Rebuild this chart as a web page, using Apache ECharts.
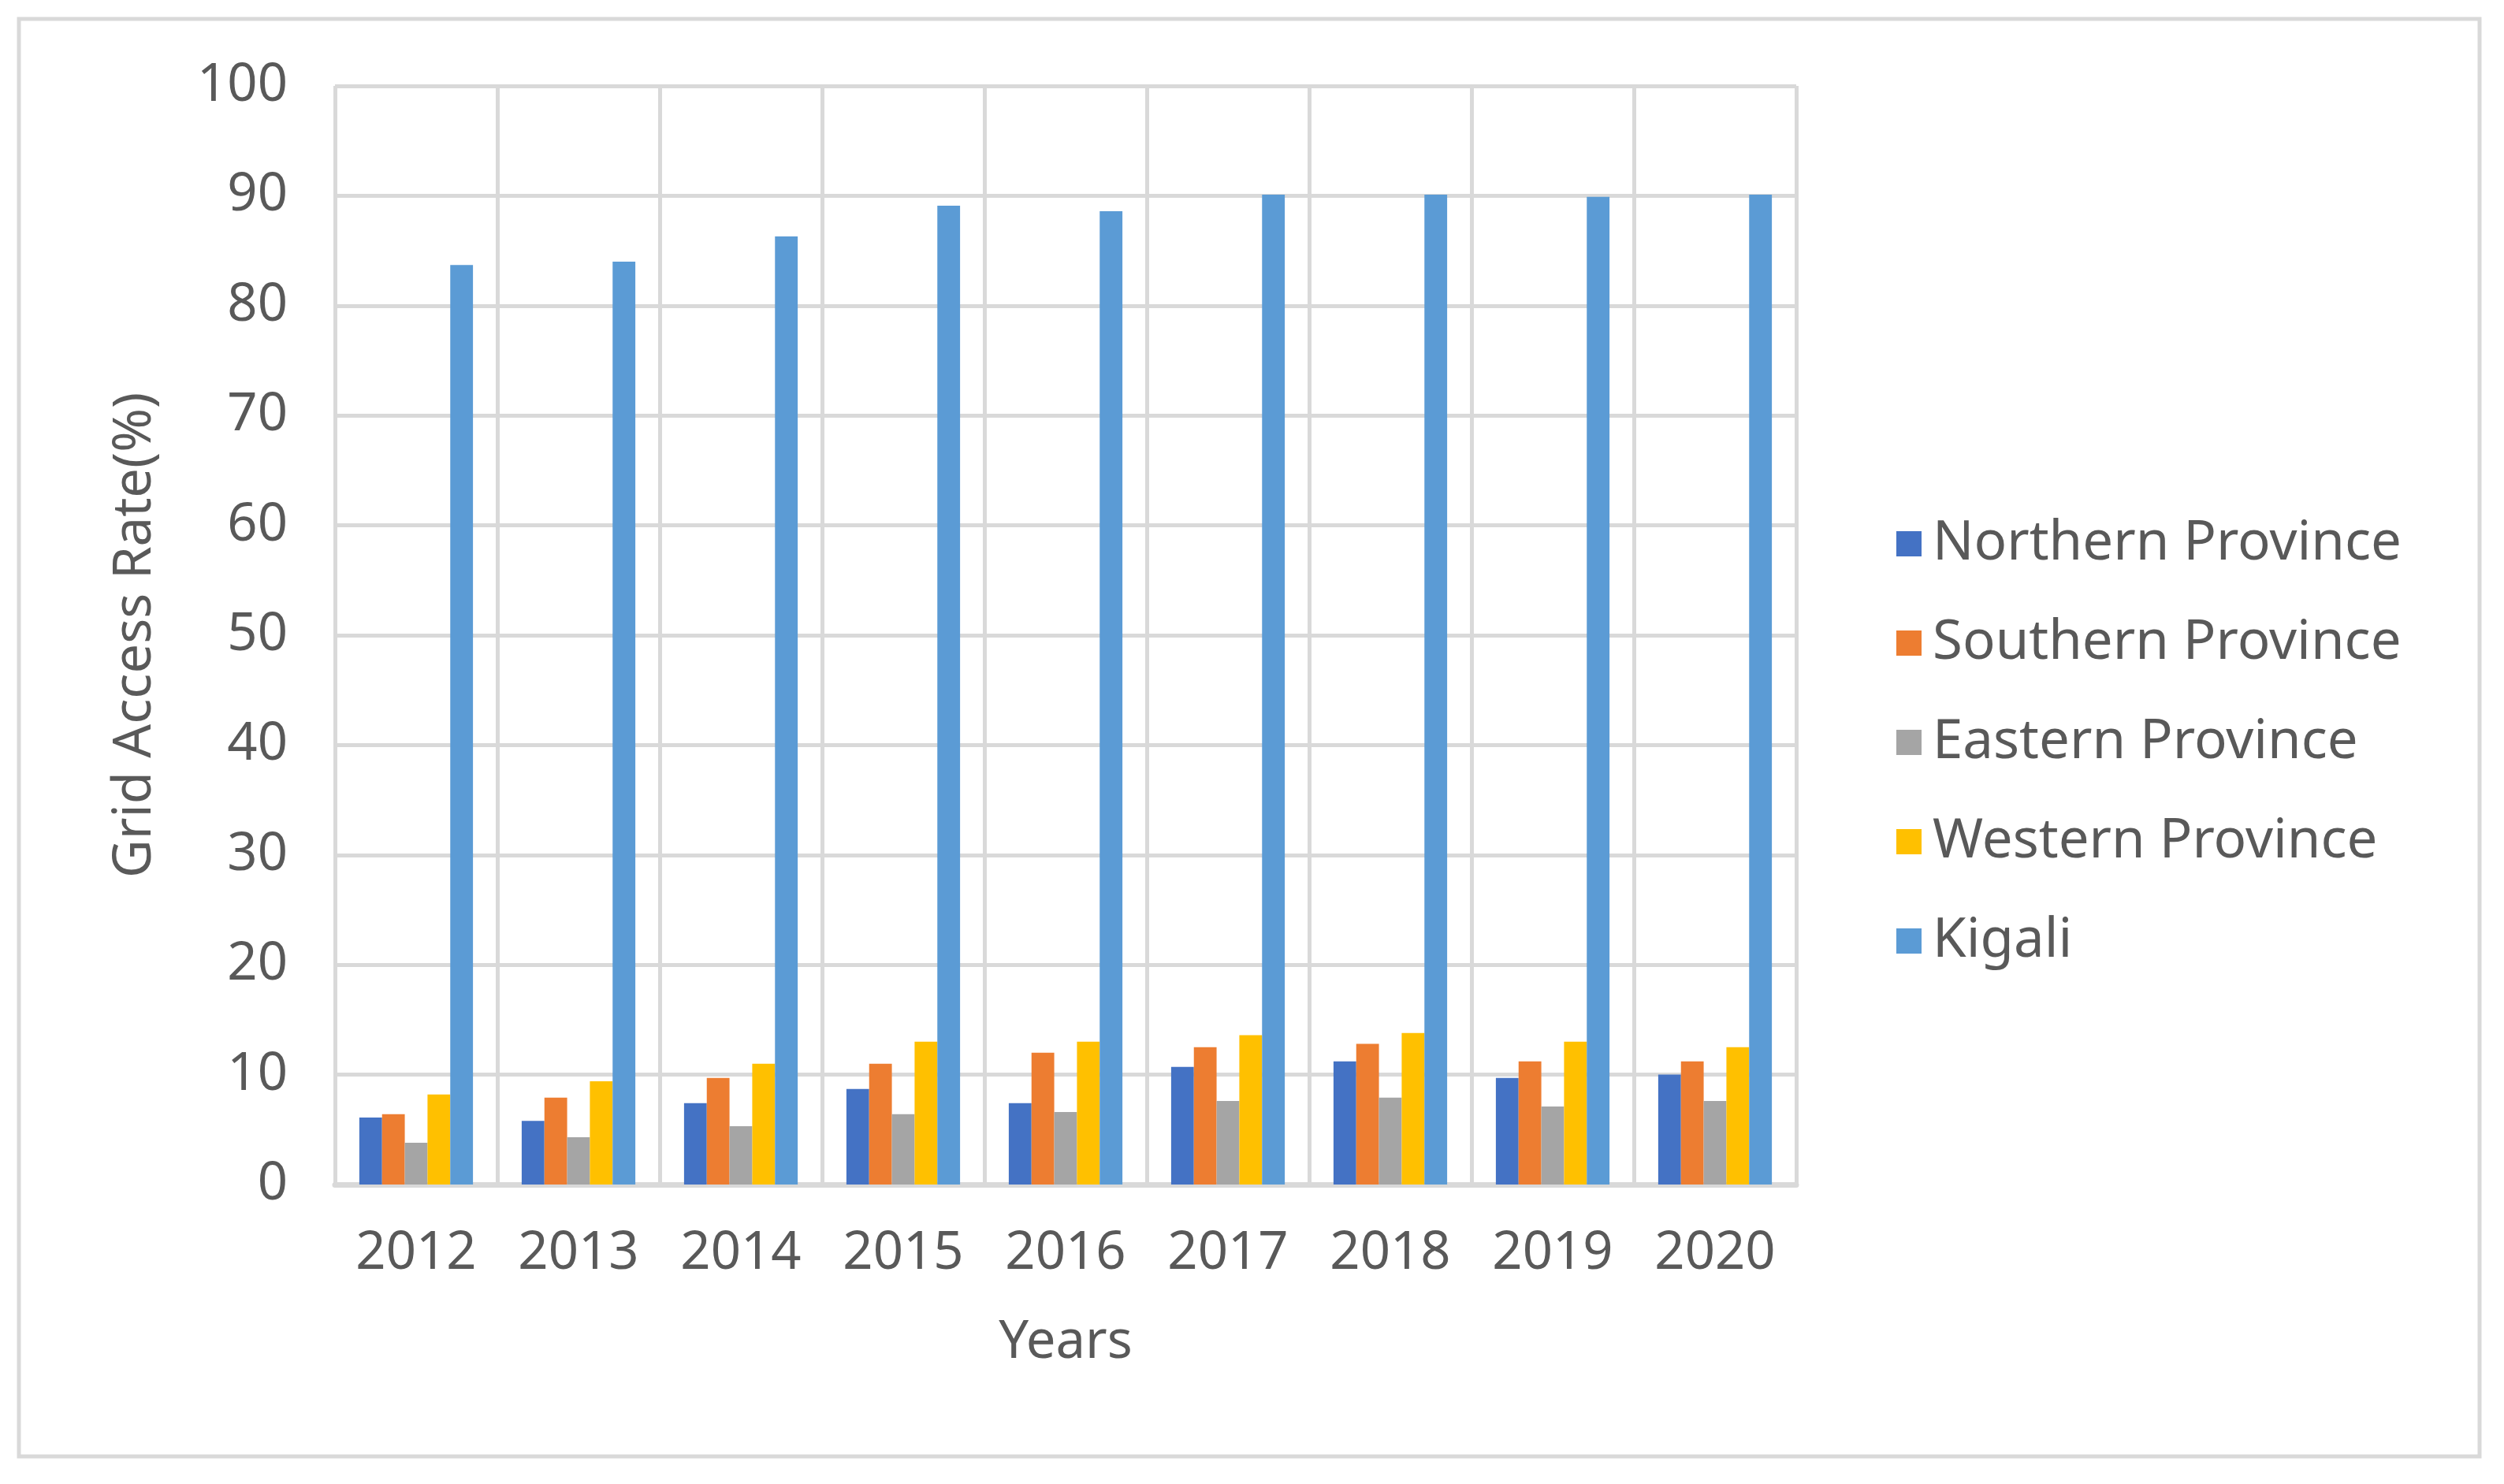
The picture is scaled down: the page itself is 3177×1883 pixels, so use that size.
<!DOCTYPE html>
<html>
<head>
<meta charset="utf-8">
<script src="https://cdn.jsdelivr.net/npm/echarts@6/dist/echarts.min.js"></script>
<style>
html,body{margin:0;padding:0;background:#fff;}
#chart{width:3177px;height:1883px;}
</style>
</head>
<body>
<div id="chart"></div>
<script>
const years = ['2012','2013','2014','2015','2016','2017','2018','2019','2020'];
const seriesNames = ['Northern Province','Southern Province','Eastern Province','Western Province','Kigali'];
const northern = [6.1, 5.8, 7.4, 8.7, 7.4, 10.7, 11.2, 9.7, 10.0];
const southern = [6.4, 7.9, 9.7, 11.0, 12.0, 12.5, 12.8, 11.2, 11.2];
const eastern  = [3.8, 4.3, 5.3, 6.4, 6.6, 7.6, 7.9, 7.1, 7.6];
const western  = [8.2, 9.4, 11.0, 13.0, 13.0, 13.6, 13.8, 13.0, 12.5];
const kigali   = [83.7, 84.0, 86.3, 89.1, 88.6, 90.1, 90.1, 89.9, 90.1];
const yTicks = { min: 0, max: 100, interval: 10 };
const colors = ['#4472C4','#ED7D31','#A5A5A5','#FFC000','#5B9BD5'];

const values = [northern, southern, eastern, western, kigali];
const font = '"Noto Sans", "DejaVu Sans", sans-serif';
const grey = '#d9d9d9';
const textColor = '#595959';

const chart = echarts.init(document.getElementById('chart'), null, {renderer: 'canvas'});
chart.setOption({
  animation: false,
  backgroundColor: '#fff',
  color: colors,
  graphic: [{
    type: 'rect',
    shape: { x: 24, y: 24, width: 3122, height: 1824 },
    style: { fill: 'none', stroke: grey, lineWidth: 5 },
    silent: true
  }],
  grid: { left: 425, right: 898, top: 109, bottom: 380, containLabel: false },
  legend: {
    orient: 'vertical',
    left: 2401,
    top: 645,
    itemWidth: 32,
    itemHeight: 32,
    itemGap: 46,
    icon: 'rect',
    data: seriesNames,
    textStyle: { fontFamily: font, fontSize: 69, color: textColor, lineHeight: 80, padding: [0,0,0,9] }
  },
  xAxis: {
    type: 'category',
    data: years,
    name: 'Years',
    nameLocation: 'middle',
    nameGap: 166,
    nameTextStyle: { fontFamily: font, fontSize: 67, color: textColor, lineHeight: 70 },
    axisLine: { show: true, lineStyle: { color: grey, width: 7 } },
    axisTick: { show: false },
    axisLabel: { fontFamily: font, fontSize: 67, color: textColor, margin: 53, lineHeight: 70 },
    splitLine: { show: true, lineStyle: { color: grey, width: 5 } }
  },
  yAxis: {
    type: 'value',
    min: yTicks.min,
    max: yTicks.max,
    interval: yTicks.interval,
    name: 'Grid Access Rate(%)',
    nameLocation: 'middle',
    nameGap: 218,
    nameTextStyle: { fontFamily: font, fontSize: 67, color: textColor, lineHeight: 70 },
    axisLine: { show: false },
    axisTick: { show: false },
    axisLabel: { fontFamily: font, fontSize: 67, color: textColor, margin: 60 },
    splitLine: { show: true, lineStyle: { color: grey, width: 5 } }
  },
  series: seriesNames.map((name, i) => ({
    name: name,
    type: 'bar',
    data: values[i],
    barGap: '0%',
    barCategoryGap: '30%',
    itemStyle: { color: colors[i] }
  }))
});
</script>
</body>
</html>
